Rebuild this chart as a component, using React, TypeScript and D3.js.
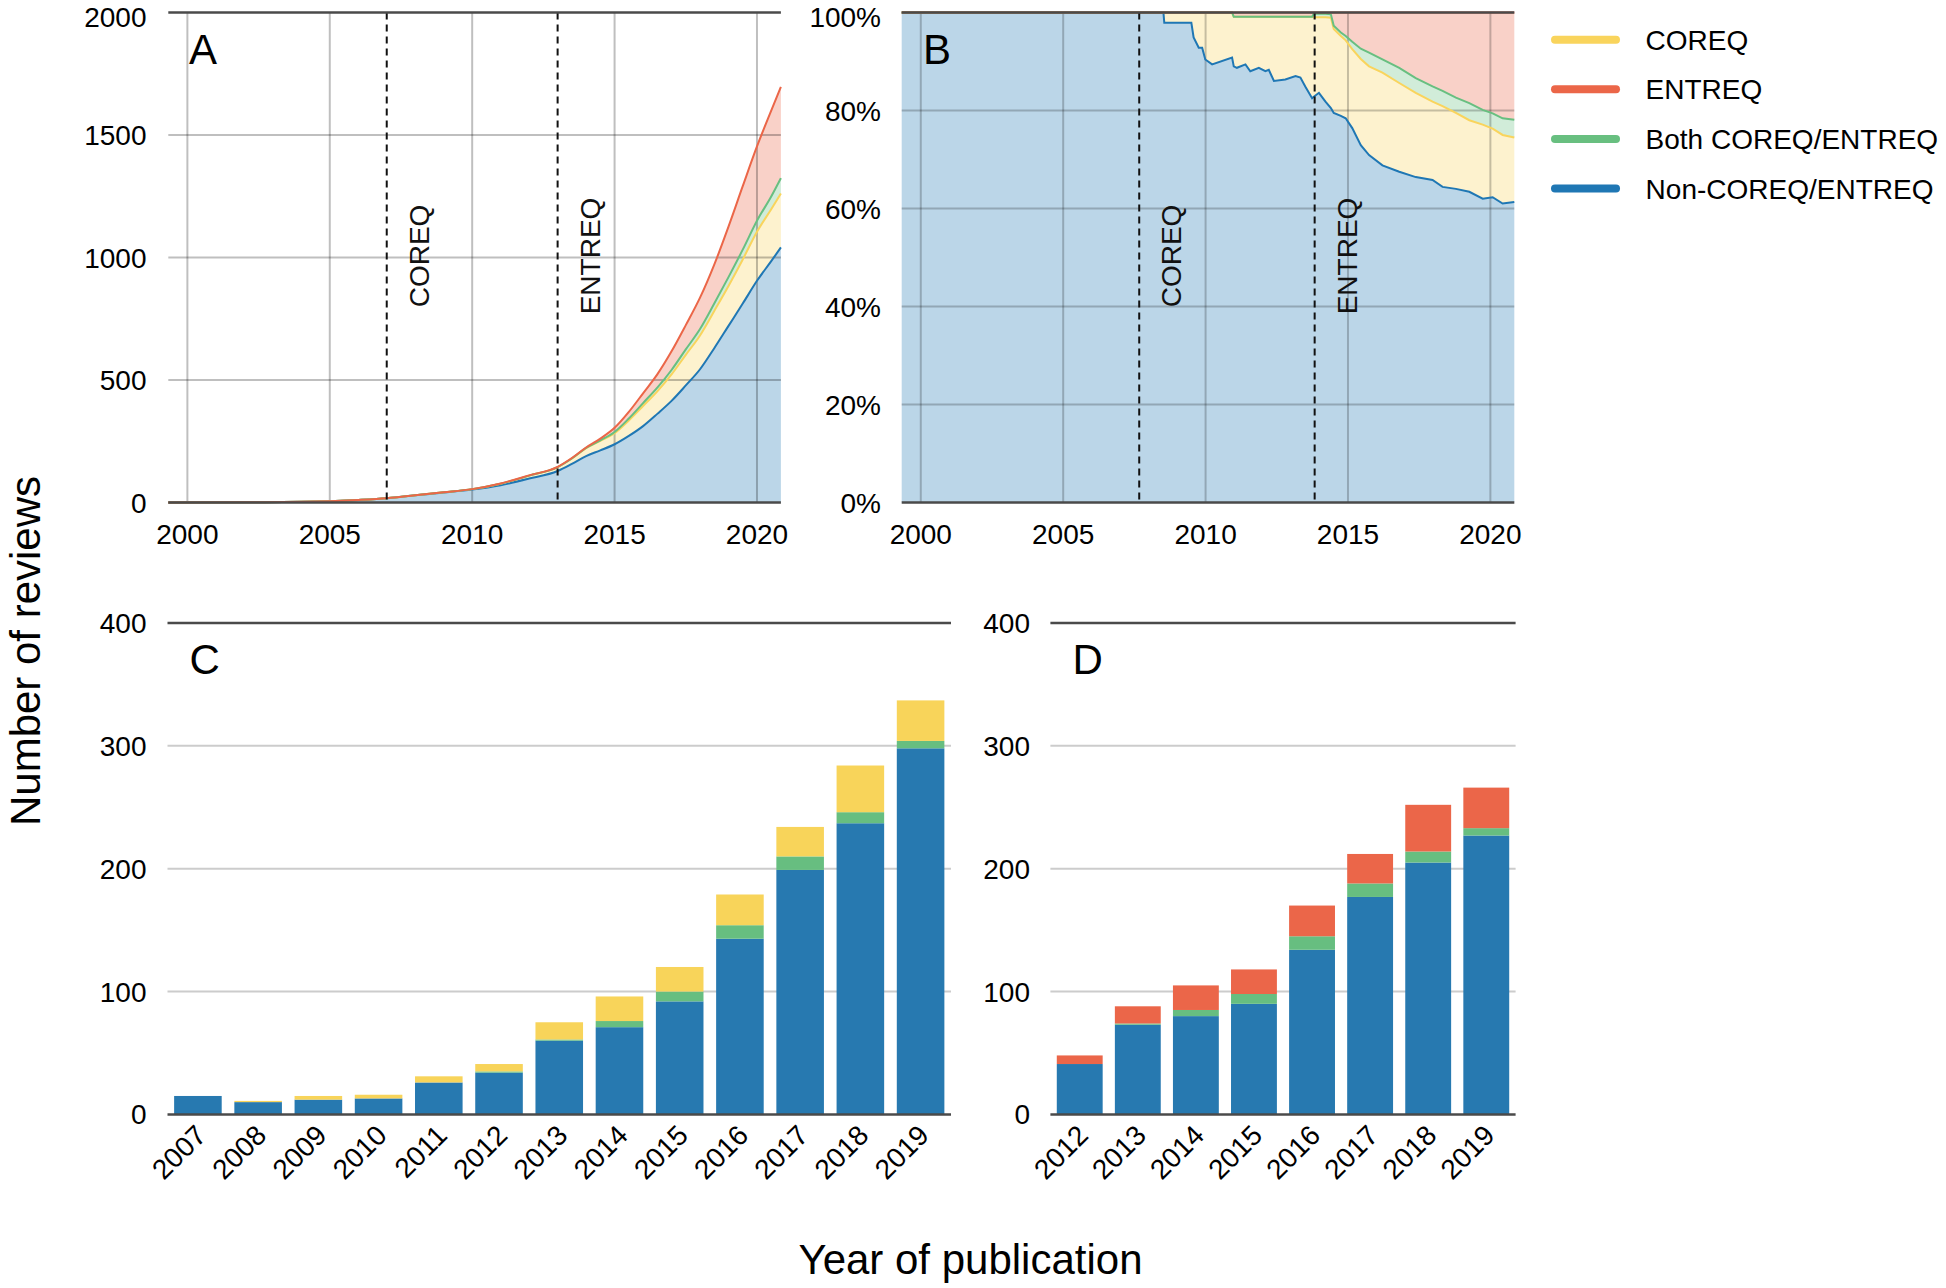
import React, { useEffect, useRef } from 'react';
import * as d3 from 'd3';

// Panel A: cumulative number of reviews by group
const aYears = [1999.33, 2002, 2004, 2005, 2006, 2007, 2008, 2009, 2010, 2011, 2012, 2013, 2013.5, 2014, 2014.5, 2015, 2015.5, 2016, 2016.5, 2017, 2017.5, 2018, 2018.5, 2019, 2019.5, 2020, 2020.5, 2020.84];
const nonCum = [0, 1, 3, 6, 11, 18, 30, 41, 53, 71, 98, 129, 158, 190, 213, 238, 272, 312, 362, 415, 478, 544, 630, 721, 812, 905, 985, 1041];
const coreqCum = [0, 0, 0, 0, 0, 0, 0, 1, 2, 6, 12, 16, 22, 32, 39, 45, 63, 82, 92, 108, 125, 138, 152, 163, 180, 200, 212, 220];
const bothCum = [0, 0, 0, 0, 0, 0, 0, 0, 0, 0, 0, 0, 0, 1, 2, 5, 8, 12, 15, 18, 22, 26, 30, 36, 40, 45, 52, 63];
const entreqCum = [0, 0, 0, 0, 0, 0, 0, 0, 0, 1, 1, 1, 2, 2, 7, 17, 27, 40, 54, 76, 99, 128, 159, 206, 259, 303, 350, 372];

// Panel B: share of reviews (%), upper edge of each stacked band
const bYears = [1999.33, 2008.52, 2008.55, 2009.5, 2009.58, 2009.76, 2009.88, 2009.99, 2010.23, 2010.93, 2010.99, 2011.1, 2011.4, 2011.57, 2011.87, 2012.1, 2012.22, 2012.4, 2012.8, 2013.16, 2013.33, 2013.5, 2013.74, 2013.8, 2013.98, 2014.21, 2014.4, 2014.5, 2014.75, 2014.92, 2015.15, 2015.45, 2015.74, 2016.21, 2016.8, 2017.38, 2017.97, 2018.32, 2018.79, 2019.26, 2019.73, 2020.08, 2020.43, 2020.84];
const bNonTop = [100, 100, 97.9, 97.9, 94.9, 92.8, 92.8, 90.4, 89.4, 90.8, 89.0, 88.7, 89.4, 88.0, 88.7, 88.0, 88.3, 86.0, 86.3, 87.0, 86.7, 84.9, 82.5, 82.8, 83.6, 81.8, 80.5, 79.5, 78.9, 78.4, 76.4, 72.9, 70.9, 68.8, 67.5, 66.4, 65.8, 64.4, 64.0, 63.4, 62.0, 62.3, 61.0, 61.3];
const bCoreqTop = [100, 100, 100, 100, 100, 100, 100, 100, 100, 100, 99.1, 99.1, 99.1, 99.1, 99.1, 99.1, 99.1, 99.1, 99.1, 99.1, 99.1, 99.1, 99.1, 99.0, 99.0, 99.0, 98.9, 96.6, 95.2, 94.3, 92.5, 90.5, 89.0, 87.7, 85.6, 83.6, 81.8, 80.9, 79.5, 78.0, 77.1, 76.3, 75.0, 74.5];
const bBothTop = [100, 100, 100, 100, 100, 100, 100, 100, 100, 100, 99.1, 99.1, 99.1, 99.1, 99.1, 99.1, 99.1, 99.1, 99.1, 99.1, 99.1, 99.1, 99.1, 99.7, 99.7, 99.7, 99.6, 97.3, 95.9, 95.2, 94.0, 92.6, 91.8, 90.4, 88.7, 86.6, 84.9, 84.0, 82.6, 81.5, 80.1, 79.4, 78.4, 78.1];

// Guideline publication markers
const guideA = [{ year: 2007, label: 'COREQ' }, { year: 2013, label: 'ENTREQ' }];
const guideB = [{ year: 2007.67, label: 'COREQ' }, { year: 2013.83, label: 'ENTREQ' }];

// Panel C: reviews per year, COREQ group
const cYears = ['2007', '2008', '2009', '2010', '2011', '2012', '2013', '2014', '2015', '2016', '2017', '2018', '2019'];
const cNon = [15, 10, 12, 13, 26, 34, 60, 71, 92, 143, 199, 237, 298];
const cBoth = [0, 0, 0, 0, 0, 1, 1, 5, 8, 11, 11, 9, 6];
const cCoreq = [0, 1, 3, 3, 5, 6, 14, 20, 20, 25, 24, 38, 33];

// Panel D: reviews per year, ENTREQ group
const dYears = ['2012', '2013', '2014', '2015', '2016', '2017', '2018', '2019'];
const dNon = [41, 73, 80, 90, 134, 177, 205, 227];
const dBoth = [0, 1, 5, 8, 11, 11, 9, 6];
const dEntreq = [7, 14, 20, 20, 25, 24, 38, 33];

const legendKeys = ['coreq', 'entreq', 'both', 'non'];
const legendLabels = ['COREQ', 'ENTREQ', 'Both COREQ/ENTREQ', 'Non-COREQ/ENTREQ'];

const COLORS: Record<string, string> = {
  non: '#1f77b4',
  coreq: '#f9d45c',
  both: '#68bf80',
  entreq: '#eb6648',
};
const BAR_COLORS: Record<string, string> = {
  non: '#2779b0',
  coreq: '#f8d45a',
  both: '#67be80',
  entreq: '#eb6649',
};

const W = 1946;
const H = 1288;
const FONT = "'Liberation Sans', Arial, sans-serif";
const TICK_SIZE = 28;
const SPINE = '#4a4a4a';

export default function App() {
  const svgRef = useRef<SVGSVGElement>(null);

  useEffect(() => {
    if (!svgRef.current) return;
    const svg = d3.select(svgRef.current);
    svg.selectAll('*').remove();
    svg.attr('font-family', FONT);

    const yearTicks = [2000, 2005, 2010, 2015, 2020];

    function drawHSpines(g: any, x0: number, x1: number, yTop: number, yBottom: number) {
      g.append('line').attr('x1', x0).attr('x2', x1).attr('y1', yTop).attr('y2', yTop)
        .attr('stroke', SPINE).attr('stroke-width', 2.5);
      g.append('line').attr('x1', x0).attr('x2', x1).attr('y1', yBottom).attr('y2', yBottom)
        .attr('stroke', SPINE).attr('stroke-width', 2.5);
    }

    function drawGuides(g: any, x: any, guides: { year: number; label: string }[], yTop: number, yBottom: number) {
      guides.forEach(gd => {
        g.append('line')
          .attr('x1', x(gd.year)).attr('x2', x(gd.year))
          .attr('y1', yTop).attr('y2', yBottom)
          .attr('stroke', '#111').attr('stroke-width', 2)
          .attr('stroke-dasharray', '7,5');
        g.append('text')
          .attr('transform', `translate(${x(gd.year) + 42},256) rotate(-90)`)
          .attr('text-anchor', 'middle')
          .attr('font-size', TICK_SIZE)
          .attr('fill', '#111')
          .text(gd.label);
      });
    }

    // y tick label; the topmost one is nudged down so it stays inside the page
    function yLabel(g: any, xPos: number, yPos: number, txt: string) {
      const t = g.append('text').attr('x', xPos).attr('text-anchor', 'end').attr('font-size', TICK_SIZE).text(txt);
      if (yPos < 20) t.attr('y', 27);
      else t.attr('y', yPos).attr('dy', '0.36em');
    }

    // ---------- Panel A ----------
    {
      const x = d3.scaleLinear().domain([1999.33, 2020.84]).range([168.3, 780.9]);
      const y = d3.scaleLinear().domain([0, 2000]).range([502.6, 12.4]);
      const g = svg.append('g');

      const rows = aYears.map((yr, i) => ({
        year: yr, non: nonCum[i], coreq: coreqCum[i], both: bothCum[i], entreq: entreqCum[i],
      }));
      const keys = ['non', 'coreq', 'both', 'entreq'];
      const stacked = d3.stack<any>().keys(keys)(rows);

      const area = d3.area<any>()
        .x(d => x(d.data.year))
        .y0(d => y(d[0]))
        .y1(d => y(d[1]))
        .curve(d3.curveMonotoneX);
      const line = d3.line<any>()
        .x(d => x(d.data.year))
        .y(d => y(d[1]))
        .curve(d3.curveMonotoneX);

      stacked.forEach(s => {
        g.append('path').datum(s).attr('d', area)
          .attr('fill', COLORS[s.key]).attr('fill-opacity', 0.3);
      });

      // grid over the fills
      [500, 1000, 1500].forEach(v => {
        g.append('line').attr('x1', x.range()[0]).attr('x2', x.range()[1])
          .attr('y1', y(v)).attr('y2', y(v))
          .attr('stroke', '#000').attr('stroke-opacity', 0.25).attr('stroke-width', 2);
      });
      yearTicks.forEach(v => {
        g.append('line').attr('x1', x(v)).attr('x2', x(v))
          .attr('y1', y(2000)).attr('y2', y(0))
          .attr('stroke', '#000').attr('stroke-opacity', 0.25).attr('stroke-width', 2);
      });

      stacked.forEach(s => {
        g.append('path').datum(s).attr('d', line)
          .attr('fill', 'none').attr('stroke', COLORS[s.key]).attr('stroke-width', 2);
      });

      drawGuides(g, x, guideA, y(2000), y(0));
      drawHSpines(g, x.range()[0], x.range()[1], y(2000), y(0));

      [0, 500, 1000, 1500, 2000].forEach(v => yLabel(g, 146.5, y(v), String(v)));
      yearTicks.forEach(v => {
        g.append('text').attr('x', x(v)).attr('y', 544)
          .attr('text-anchor', 'middle').attr('font-size', TICK_SIZE).text(String(v));
      });
      g.append('text').attr('x', 189).attr('y', 64).attr('font-size', 42).text('A');
    }

    // ---------- Panel B ----------
    {
      const x = d3.scaleLinear().domain([1999.33, 2020.84]).range([901.7, 1514.3]);
      const y = d3.scaleLinear().domain([0, 100]).range([502.6, 12.4]);
      const g = svg.append('g');

      const rows = bYears.map((yr, i) => ({
        year: yr, non: bNonTop[i], coreq: bCoreqTop[i], both: bBothTop[i], entreq: 100,
      }));
      const bands = [
        { key: 'non', lo: (d: any) => 0, hi: (d: any) => d.non },
        { key: 'coreq', lo: (d: any) => d.non, hi: (d: any) => d.coreq },
        { key: 'both', lo: (d: any) => d.coreq, hi: (d: any) => d.both },
        { key: 'entreq', lo: (d: any) => d.both, hi: (d: any) => d.entreq },
      ];
      bands.forEach(b => {
        const area = d3.area<any>().x(d => x(d.year)).y0(d => y(b.lo(d))).y1(d => y(b.hi(d)));
        g.append('path').datum(rows).attr('d', area)
          .attr('fill', COLORS[b.key]).attr('fill-opacity', 0.3);
      });

      [20, 40, 60, 80].forEach(v => {
        g.append('line').attr('x1', x.range()[0]).attr('x2', x.range()[1])
          .attr('y1', y(v)).attr('y2', y(v))
          .attr('stroke', '#000').attr('stroke-opacity', 0.22).attr('stroke-width', 2);
      });
      yearTicks.forEach(v => {
        g.append('line').attr('x1', x(v)).attr('x2', x(v))
          .attr('y1', y(100)).attr('y2', y(0))
          .attr('stroke', '#000').attr('stroke-opacity', 0.22).attr('stroke-width', 2);
      });

      bands.forEach(b => {
        const line = d3.line<any>().x(d => x(d.year)).y(d => y(b.hi(d)));
        g.append('path').datum(rows).attr('d', line)
          .attr('fill', 'none').attr('stroke', COLORS[b.key]).attr('stroke-width', 2);
      });

      drawGuides(g, x, guideB, y(100), y(0));
      drawHSpines(g, x.range()[0], x.range()[1], y(100), y(0));

      [0, 20, 40, 60, 80, 100].forEach(v => yLabel(g, 881, y(v), `${v}%`));
      yearTicks.forEach(v => {
        g.append('text').attr('x', x(v)).attr('y', 544)
          .attr('text-anchor', 'middle').attr('font-size', TICK_SIZE).text(String(v));
      });
      g.append('text').attr('x', 923).attr('y', 64).attr('font-size', 42).text('B');
    }

    // ---------- Bar panels ----------
    function drawBars(
      cats: string[], series: { key: string; values: number[] }[],
      range: [number, number], labelX: number, letter: string,
    ) {
      const x = d3.scaleBand().domain(cats).range(range).paddingInner(0.21).paddingOuter(0.11);
      const y = d3.scaleLinear().domain([0, 400]).range([1114.4, 623]);
      const g = svg.append('g');

      [100, 200, 300].forEach(v => {
        g.append('line').attr('x1', range[0]).attr('x2', range[1])
          .attr('y1', y(v)).attr('y2', y(v))
          .attr('stroke', '#cccccc').attr('stroke-width', 2);
      });

      const rows = cats.map((c, i) => {
        const r: any = { cat: c };
        series.forEach(s => { r[s.key] = s.values[i]; });
        return r;
      });
      const stacked = d3.stack<any>().keys(series.map(s => s.key))(rows);
      stacked.forEach(s => {
        g.append('g').selectAll('rect').data(s).enter().append('rect')
          .attr('x', d => x(d.data.cat) as number)
          .attr('width', x.bandwidth())
          .attr('y', d => y(d[1]))
          .attr('height', d => y(d[0]) - y(d[1]))
          .attr('fill', BAR_COLORS[s.key]);
      });

      drawHSpines(g, range[0], range[1], y(400), y(0));

      [0, 100, 200, 300, 400].forEach(v => {
        g.append('text').attr('x', labelX).attr('y', y(v)).attr('dy', '0.36em')
          .attr('text-anchor', 'end').attr('font-size', TICK_SIZE).text(String(v));
      });
      cats.forEach(c => {
        const cx = (x(c) as number) + x.bandwidth() / 2;
        g.append('text')
          .attr('transform', `translate(${cx + 10},1137) rotate(-45)`)
          .attr('text-anchor', 'end').attr('font-size', TICK_SIZE).text(c);
      });
      g.append('text').attr('x', range[0] + 22).attr('y', 674).attr('font-size', 42).text(letter);
    }

    drawBars(cYears, [
      { key: 'non', values: cNon },
      { key: 'both', values: cBoth },
      { key: 'coreq', values: cCoreq },
    ], [167.5, 951], 146.5, 'C');

    drawBars(dYears, [
      { key: 'non', values: dNon },
      { key: 'both', values: dBoth },
      { key: 'entreq', values: dEntreq },
    ], [1050.4, 1515.6], 1030, 'D');

    // ---------- Legend ----------
    const lg = svg.append('g');
    legendKeys.forEach((k, i) => {
      const cy = 39.7 + i * 49.6;
      lg.append('line').attr('x1', 1555).attr('x2', 1616).attr('y1', cy).attr('y2', cy)
        .attr('stroke', COLORS[k]).attr('stroke-width', 8).attr('stroke-linecap', 'round');
      lg.append('text').attr('x', 1645.6).attr('y', cy).attr('dy', '0.36em')
        .attr('font-size', TICK_SIZE).text(legendLabels[i]);
    });

    // ---------- Axis titles ----------
    svg.append('text')
      .attr('transform', 'translate(40,651) rotate(-90)')
      .attr('text-anchor', 'middle').attr('font-size', 42)
      .text('Number of reviews');
    svg.append('text')
      .attr('x', 970.5).attr('y', 1274)
      .attr('text-anchor', 'middle').attr('font-size', 42)
      .text('Year of publication');
  }, []);

  return (
    <div style={{ position: 'absolute', left: 0, top: 0, background: '#fff' }}>
      <svg ref={svgRef} width={W} height={H} style={{ display: 'block' }} />
    </div>
  );
}
